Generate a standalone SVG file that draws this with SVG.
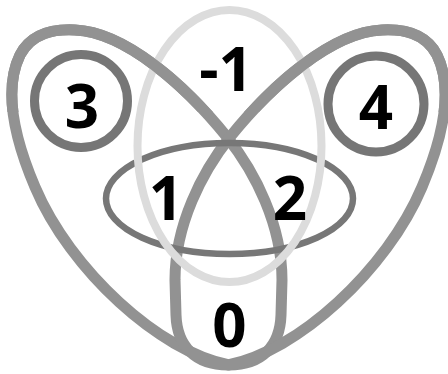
<svg xmlns="http://www.w3.org/2000/svg" xmlns:xlink="http://www.w3.org/1999/xlink" width="448" height="374" viewBox="0 0 448 374">
  <style>
    .lobe { fill: none; stroke: #929292; stroke-width: 11; stroke-linejoin: round; }
    .mid { fill: none; stroke: #777777; stroke-width: 6.5; }
    .light { fill: none; stroke: #dcdcdc; stroke-width: 8; }
    .ring { fill: none; stroke: #767676; stroke-width: 9; }
    .lbl { font-family: "Open Sans", "Liberation Sans", sans-serif; font-weight: bold; font-size: 60px; fill: #000; text-anchor: middle; }
  </style>
  <defs>
    <path id="lobeL" d="M 229 365 C 160 352 70 270 35 187 C 15 140 3 90 20 55 C 32 32 55 29 75 30 C 125 32 185 85 227 137 C 255 172 282 225 282 280 L 281 315 C 280 346 262 365 229 365 Z"/>
    <clipPath id="topClip"><rect x="0" y="0" width="448" height="112"/></clipPath>
  </defs>
  <g id="connectors">
    <use id="lobe-left" class="lobe" xlink:href="#lobeL"/>
    <use id="lobe-right" class="lobe" xlink:href="#lobeL" transform="translate(457,0) scale(-1,1)"/>
  </g>
  <g id="node-mid">
    <ellipse class="mid" cx="229.5" cy="198.5" rx="123.5" ry="55.5"/>
  </g>
  <g id="node-light">
    <ellipse class="light" cx="229.5" cy="146" rx="92" ry="136"/>
  </g>
  <g id="connectors-over" clip-path="url(#topClip)">
    <use class="lobe" xlink:href="#lobeL"/>
    <use class="lobe" xlink:href="#lobeL" transform="translate(457,0) scale(-1,1)"/>
  </g>
  <g id="node-3">
    <circle class="ring" cx="81" cy="101" r="46.5"/>
    <text class="lbl" x="82" y="128">3</text>
  </g>
  <g id="node-4">
    <circle class="ring" cx="376" cy="104" r="48"/>
    <text class="lbl" x="376" y="129">4</text>
  </g>
  <g id="node-minus1">
    <text class="lbl" x="226" y="91">-1</text>
  </g>
  <g id="node-1">
    <text class="lbl" x="166" y="220">1</text>
  </g>
  <g id="node-2">
    <text class="lbl" x="290" y="220">2</text>
  </g>
  <g id="node-0">
    <text class="lbl" x="229.5" y="347">0</text>
  </g>
</svg>
